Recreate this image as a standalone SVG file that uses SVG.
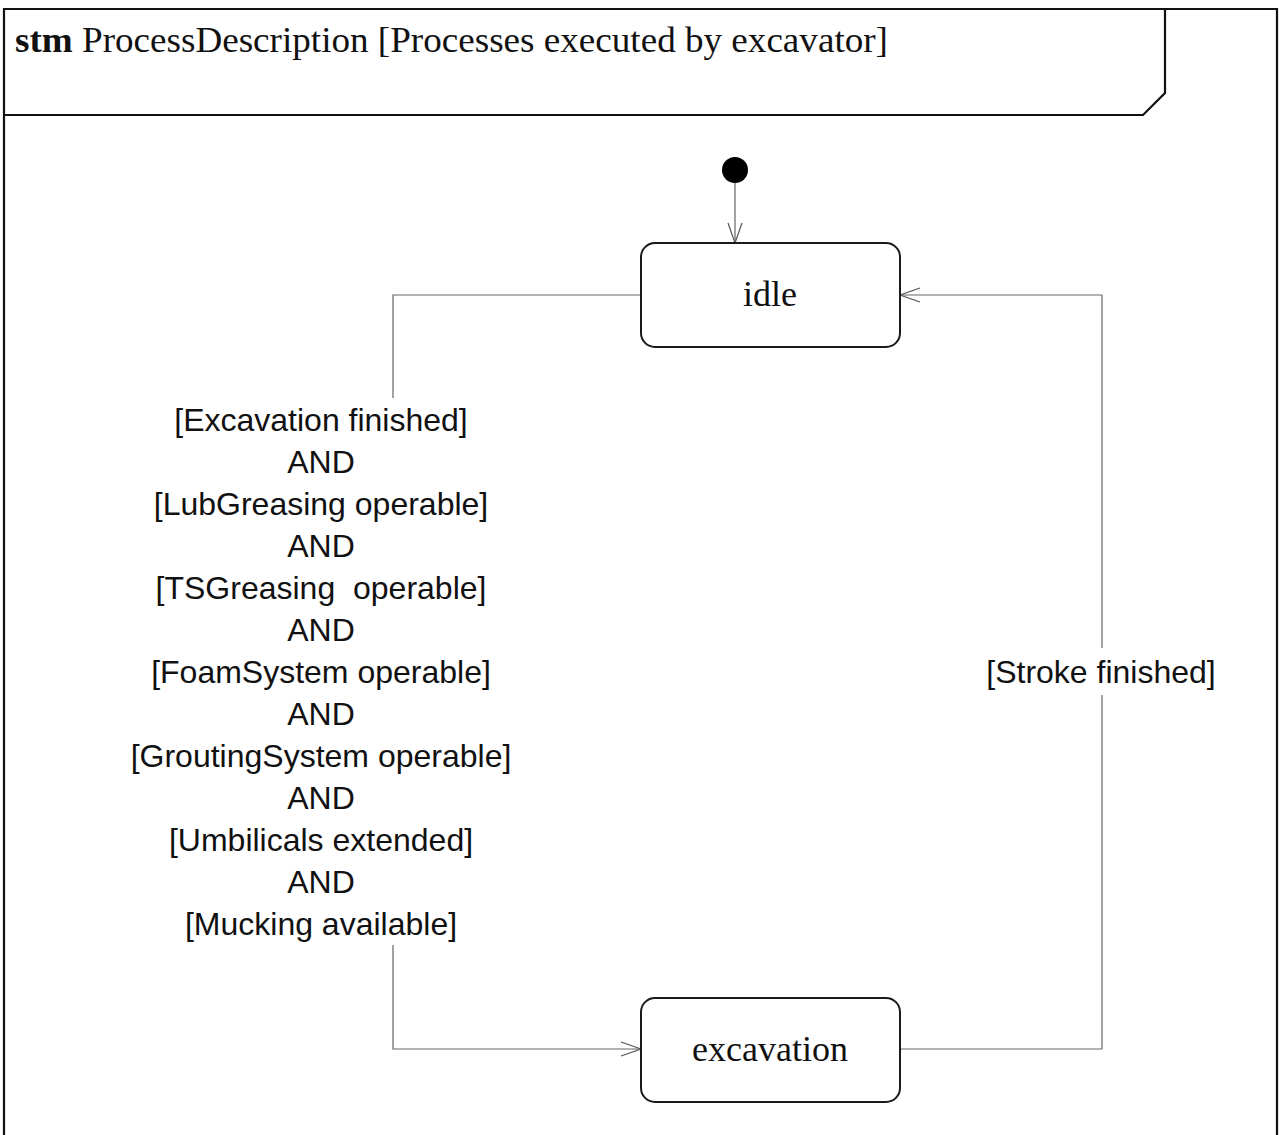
<svg xmlns="http://www.w3.org/2000/svg" width="1279" height="1135" viewBox="0 0 1279 1135">
  <style>
    .frame { fill: none; stroke: #111; stroke-width: 2.2; }
    .state { fill: #fff; stroke: #1a1a1a; stroke-width: 2; }
    .edge { fill: none; stroke: #666; stroke-width: 1.2; }
    .title { font-family: "Liberation Serif", serif; font-size: 35px; fill: #111; }
    .sname { font-family: "Liberation Serif", serif; font-size: 36px; fill: #111; text-anchor: middle; }
    .guard { font-family: "Liberation Sans", sans-serif; font-size: 32px; fill: #111; text-anchor: middle; }
  </style>
  <defs>
    <marker id="open" markerWidth="24" markerHeight="16" refX="22" refY="8" orient="auto" markerUnits="userSpaceOnUse">
      <path d="M2,1 L22,8 L2,15" fill="none" stroke="#555" stroke-width="1.2"/>
    </marker>
  </defs>
  <rect width="1279" height="1135" fill="#fff"/>

  <!-- diagram frame and name tab -->
  <g id="frame">
    <path class="frame" d="M4,1140 L4,9 L1277,9 L1277,1140"/>
    <path class="frame" d="M1165,9 L1165,93 L1143,115 L4,115"/>
    <text class="title" x="15" y="52" textLength="873" lengthAdjust="spacingAndGlyphs"><tspan font-weight="bold">stm</tspan> ProcessDescription [Processes executed by excavator]</text>
  </g>

  <!-- transitions -->
  <g id="connectors">
    <line class="edge" x1="735" y1="183" x2="735" y2="243" stroke="#444" stroke-width="1.5" marker-end="url(#open)"/>
    <polyline class="edge" points="641,295 393,295 393,398"/>
    <polyline class="edge" points="393,945 393,1049 641,1049" marker-end="url(#open)"/>
    <polyline class="edge" points="900,1049 1102,1049 1102,695"/>
    <polyline class="edge" points="1102,648 1102,295 900,295" marker-end="url(#open)"/>
    <g id="guard-left">
      <text class="guard" x="321" y="431">[Excavation finished]</text>
      <text class="guard" x="321" y="473">AND</text>
      <text class="guard" x="321" y="515">[LubGreasing operable]</text>
      <text class="guard" x="321" y="557">AND</text>
      <text class="guard" x="321" y="599" xml:space="preserve">[TSGreasing  operable]</text>
      <text class="guard" x="321" y="641">AND</text>
      <text class="guard" x="321" y="683">[FoamSystem operable]</text>
      <text class="guard" x="321" y="725">AND</text>
      <text class="guard" x="321" y="767">[GroutingSystem operable]</text>
      <text class="guard" x="321" y="809">AND</text>
      <text class="guard" x="321" y="851">[Umbilicals extended]</text>
      <text class="guard" x="321" y="893">AND</text>
      <text class="guard" x="321" y="935">[Mucking available]</text>
    </g>
    <text id="guard-right" class="guard" x="1101" y="683">[Stroke finished]</text>
  </g>

  <g id="initial">
    <circle cx="735" cy="170" r="13" fill="#000"/>
  </g>

  <g id="idle">
    <rect class="state" x="641" y="243" width="259" height="104" rx="14"/>
    <text class="sname" x="770" y="306">idle</text>
  </g>

  <g id="excavation">
    <rect class="state" x="641" y="998" width="259" height="104" rx="14"/>
    <text class="sname" x="770" y="1061">excavation</text>
  </g>
</svg>
